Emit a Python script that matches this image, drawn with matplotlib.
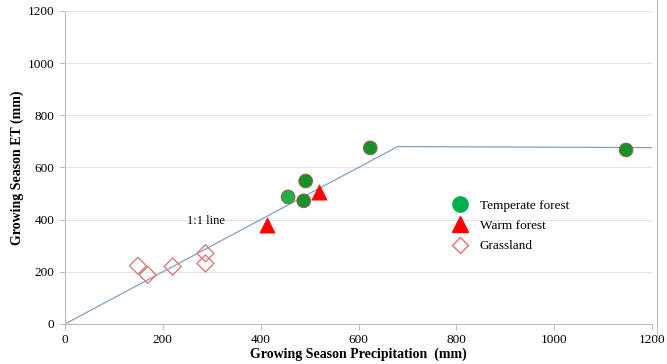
import matplotlib.pyplot as plt
from matplotlib.lines import Line2D

plt.rcParams['font.family'] = ['Liberation Serif', 'DejaVu Serif']

# site data (mm)
temperate_p = [456, 492, 488, 624, 1147]
temperate_et = [487, 548, 472, 675, 667]
temperate_col = ['#1fae4a', '#15922c', '#15922c', '#15922c', '#15922c']

warm_p = [412, 519]
warm_et = [380, 507]

grass_p = [149, 169, 220, 287, 287]
grass_et = [223, 188, 220, 271, 232]

# 1:1 line capped at the energy limit
limit_p = [0, 680, 1200]
limit_et = [0, 680, 676]

fig = plt.figure(figsize=(6.67, 3.64), dpi=100)
ax = fig.add_axes([0.0975, 0.11, 0.88, 0.86])

ax.plot(limit_p, limit_et, color='#7f9fc6', linewidth=0.9, zorder=2)

ax.scatter(temperate_p, temperate_et, s=95, c=temperate_col, edgecolors='#8a6a3a',
           linewidths=0.8, zorder=3)
ax.scatter(warm_p, warm_et, s=120, marker='^', c='#ff0000', edgecolors='#ff0000',
           linewidths=0.5, zorder=3)
ax.scatter(grass_p, grass_et, s=75, marker='D', facecolors='none', edgecolors='#d87070',
           linewidths=0.9, zorder=3)

ax.text(289, 395, '1:1 line', fontsize=9, ha='center', va='center')

ax.set_xlim(0, 1200)
ax.set_ylim(0, 1200)
ax.set_xticks(range(0, 1201, 200))
ax.set_yticks(range(0, 1201, 200))
ax.tick_params(labelsize=9.5, length=4, color='#bfbfbf', width=0.8)
ax.grid(axis='y', color='#e3e3e3', linewidth=0.8)
ax.set_axisbelow(True)
for side in ['top', 'right']:
    ax.spines[side].set_visible(False)
for side in ['left', 'bottom']:
    ax.spines[side].set_color('#bfbfbf')

ax.set_xlabel('Growing Season Precipitation  (mm)', fontsize=10, fontweight='bold', labelpad=1)
ax.set_ylabel('Growing Season ET (mm)', fontsize=10, fontweight='bold', labelpad=3)

handles = [
    Line2D([], [], marker='o', linestyle='none', markersize=11, markerfacecolor='#00b050',
           markeredgecolor='#00b050'),
    Line2D([], [], marker='^', linestyle='none', markersize=12, markerfacecolor='#ff0000',
           markeredgecolor='#ff0000'),
    Line2D([], [], marker='D', linestyle='none', markersize=8, markerfacecolor='none',
           markeredgecolor='#e07070'),
]
ax.legend(handles, ['Temperate forest', 'Warm forest', 'Grassland'], loc='upper left',
          bbox_to_anchor=(0.63, 0.435), frameon=False, fontsize=9.5, labelspacing=0.6,
          handletextpad=0.5)

# outer frame edge of the chart area
fig.add_artist(Line2D([657 / 667, 657 / 667], [0.07, 1.0], color='#bfbfbf', linewidth=0.8))

fig.savefig('out.png', dpi=100)
